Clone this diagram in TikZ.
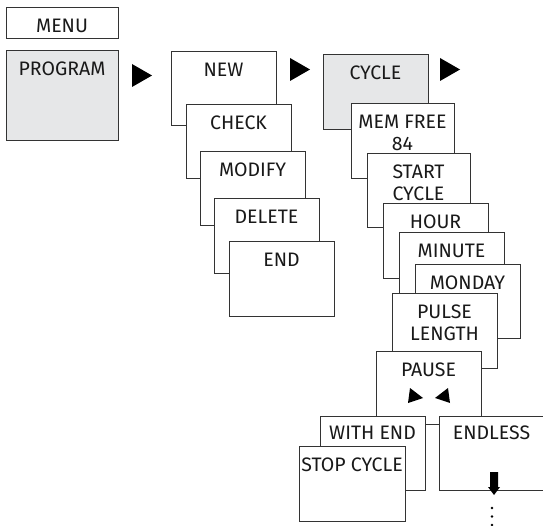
\documentclass[tikz,border=0pt]{standalone}
\usepackage{fontspec}
\setmainfont{Fira Sans}
\definecolor{boxgray}{HTML}{E6E7E8}
\definecolor{inkgray}{HTML}{333333}
\tikzset{
	menubox/.style={draw=inkgray,line width=0.9pt,fill=white,inner sep=0pt,outer sep=0pt,
		minimum width=105,minimum height=74,anchor=north west},
	selbox/.style={menubox,fill=boxgray},
	boxtext/.style={anchor=north,align=center,inner sep=0pt,text=black!90,
		font=\fontsize{19.5}{22}\selectfont},
}
% label of a box, top centred
\newcommand{\boxlabel}[2]{\node[boxtext] (#1-t) at ([yshift=-11.5]#1.north) {#2};}
\begin{document}
\begin{tikzpicture}[x=1pt,y=-1pt]
	\useasboundingbox (0,0) rectangle (543,526);
	% left column
	\node[menubox,minimum width=112,minimum height=31] (menu) at (6,7) {};
	\boxlabel{menu}{MENU}
	\node[selbox,minimum width=112,minimum height=90] (program) at (6,50) {};
	\boxlabel{program}{PROGRAM}
	% program column
	\node[menubox] (new) at (171,51) {};
	\boxlabel{new}{NEW}
	\node[menubox] (check) at (186,104) {};
	\boxlabel{check}{CHECK}
	\node[menubox] (modify) at (200,151) {};
	\boxlabel{modify}{MODIFY}
	\node[menubox,minimum height=75] (delete) at (214,198) {};
	\boxlabel{delete}{DELETE}
	\node[menubox,minimum height=75] (end) at (229,241) {};
	\boxlabel{end}{END}
	% cycle column
	\node[selbox,minimum height=75] (cycle) at (323,54) {};
	\boxlabel{cycle}{CYCLE}
	\node[menubox,minimum width=103,minimum height=75] (memfree) at (351,103) {};
	\boxlabel{memfree}{MEM FREE\\84}
	\node[menubox,minimum width=103] (start) at (367,153) {};
	\boxlabel{start}{START\\CYCLE}
	\node[menubox,minimum height=75] (hour) at (383,203) {};
	\boxlabel{hour}{HOUR}
	\node[menubox] (minute) at (399,232) {};
	\boxlabel{minute}{MINUTE}
	\node[menubox] (monday) at (415,264) {};
	\boxlabel{monday}{MONDAY}
	\node[menubox,minimum height=75] (pulse) at (392,293) {};
	\boxlabel{pulse}{PULSE\\LENGTH}
	\node[menubox,minimum height=73] (pause) at (376,351) {};
	\boxlabel{pause}{PAUSE}
	\node[menubox] (withend) at (320,416) {};
	\node[boxtext] (withend-t) at ([yshift=-9.5]withend.north) {WITH END};
	\node[menubox] (endless) at (439,416) {};
	\node[boxtext] (endless-t) at ([yshift=-9.5]endless.north) {ENDLESS};
	\node[menubox,minimum width=106,minimum height=75] (stop) at (299,446) {};
	\boxlabel{stop}{STOP CYCLE}
	% arrows
	\fill (132,64) -- (152,75.5) -- (132,87) -- cycle;
	\fill (290,58) -- (310,69.5) -- (290,81) -- cycle;
	\fill (440,58) -- (460,69.5) -- (440,81) -- cycle;
	\fill (410,388) -- (423,398) -- (408,403) -- cycle;
	\fill (448,388) -- (435,398) -- (450,403) -- cycle;
	\fill (490,472) -- (498,472) -- (498,487) -- (500,487) -- (494,495)
		-- (488,487) -- (490,487) -- cycle;
	\foreach \y in {508,516.5,525}
		\fill (492,\y) circle (1.4);
\end{tikzpicture}
\end{document}
